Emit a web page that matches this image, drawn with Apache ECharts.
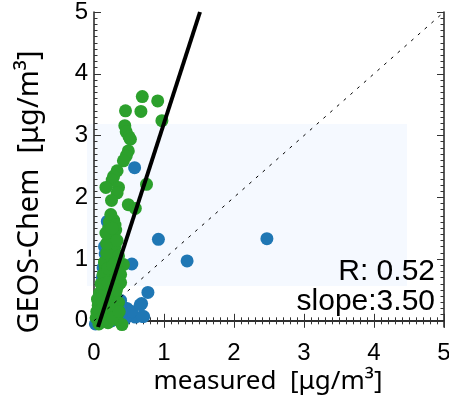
<!DOCTYPE html>
<html>
<head>
<meta charset="utf-8">
<script src="https://cdn.jsdelivr.net/npm/echarts@6/dist/echarts.min.js"></script>
<style>
  html, body { margin: 0; padding: 0; background: #fff; }
  #chart { width: 449px; height: 405px; }
</style>
</head>
<body>
<div id="chart"></div>
<script>
// Measured vs. modelled concentrations, two site groups
const blueX = [2.47, 0.92, 1.33, 0.58, 0.54, 0.77, 0.68, 0.71, 0.59, 0.52, 0.47, 0.38, 0.35, 0.28, 0.42, 0.45,
               0.19, 0.15, 0.16, 0.13, 0.12, 0.10, 0.02, 0.05, 0.08, 0.30, 0.25, 0.33, 0.22, 0.38, 0.54, 0.69, 0.66];
const blueY = [1.33, 1.32, 0.97, 2.48, 0.92, 0.46, 0.28, 0.07, 0.06, 0.14, 0.20, 0.33, 0.12, 0.23, 0.22, 0.04,
               1.61, 1.20, 1.08, 0.86, 0.70, 0.45, -0.05, 0.10, 0.30, 0.05, 0.00, 0.28, 0.10, 0.18, 0.15, 0.07, 0.26];

const greenX = [0.69, 0.91, 0.45, 0.67, 0.97, 0.44, 0.46, 0.50, 0.52, 0.49, 0.46, 0.42, 0.33, 0.28, 0.26, 0.17,
                0.35, 0.33, 0.75, 0.25, 0.49, 0.59, 0.28, 0.26, 0.21, 0.31, 0.21, 0.26, 0.24, 0.42, 0.16, 0.19,
                0.12, 0.31, 0.09, 0.24, 0.40, 0.22, 0.28, 0.25, 0.30, 0.20, 0.28, 0.22, 0.30, 0.24, 0.17, 0.26,
                0.32, 0.14, 0.22, 0.28, 0.35, 0.12, 0.20, 0.27, 0.06, 0.15, 0.22, 0.30, 0.04, 0.12, 0.18, 0.28,
                0.03, 0.10, 0.16, 0.33, 0.07, 0.35, 0.38,
                0.08, 0.10, 0.13, 0.15, 0.18, 0.18, 0.17, 0.22, 0.24, 0.30, 0.33, 0.35, 0.33, 0.38, 0.35,
                0.05, 0.08, 0.14, 0.20, 0.20, 0.27, 0.26, 0.13, 0.25, 0.32, 0.11, 0.20, 0.27, 0.36];
const greenY = [3.63, 3.56, 3.40, 3.39, 3.24, 3.16, 3.06, 2.98, 2.94, 2.75, 2.67, 2.59, 2.43, 2.34, 2.28, 2.16,
                2.16, 2.07, 2.21, 1.95, 1.88, 1.82, 1.63, 1.58, 1.50, 1.47, 1.31, 1.26, 1.10, 0.91, 0.88, 0.72,
                0.56, 0.45, 0.34, 0.07, -0.06, 1.38, 1.40, 1.18, 1.20, 1.02, 1.00, 0.95, 0.85, 0.80, 0.65, 0.65,
                0.70, 0.48, 0.52, 0.55, 0.58, 0.40, 0.40, 0.35, 0.25, 0.28, 0.25, 0.30, 0.15, 0.15, 0.12, 0.15,
                0.05, 0.02, 0.00, 0.02, -0.05, 0.80, 0.62,
                0.45, 0.60, 0.75, 0.95, 1.10, 1.25, 1.42, 1.60, 1.72, 1.55, 1.30, 1.05, 0.95, 0.75, 0.30,
                0.35, 0.15, 0.60, 0.62, 0.85, 0.90, 1.50, 0.30, 0.25, 0.50, 0.05, -0.03, 0.05, 0.15];

// Fit statistics
const fitR = 0.52;
const fitSlope = 3.50;
const fitIntercept = -0.30;

// Axis ranges and tick labels
const xRange = [0, 5];
const yRange = [-0.1, 5];
const xTicks = [0, 1, 2, 3, 4, 5];
const yTicks = [0, 1, 2, 3, 4, 5];

const pairs = (xs, ys) => xs.map((x, i) => [x, ys[i]]);
const yMinor = [];
for (let k = 0; k <= 50; k++) yMinor.push(+(k * 0.1).toFixed(1));

const tickFont = { fontFamily: 'Liberation Sans', fontSize: 24, color: '#000' };
const axisLine = { show: true, lineStyle: { color: '#222', width: 1.5 } };

function yAxisDef(position, values, len, withLine, withLabels) {
  return {
    type: 'value', position: position, min: yRange[0], max: yRange[1],
    axisLine: withLine ? axisLine : { show: false },
    axisTick: { show: true, inside: true, length: len, customValues: values,
                lineStyle: { color: '#333', width: 1 } },
    axisLabel: withLabels
      ? Object.assign({ show: true, customValues: yTicks, margin: 6, padding: [12, 0, 0, 0] }, tickFont)
      : { show: false },
    splitLine: { show: false }
  };
}

function xAxisDef(position, withLabels) {
  return {
    type: 'value', position: position, min: xRange[0], max: xRange[1], interval: 1,
    axisLine: axisLine,
    axisTick: { show: true, inside: true, length: 7, lineStyle: { color: '#333', width: 1 } },
    minorTick: { show: true, splitNumber: 10, length: 3.5, lineStyle: { color: '#333', width: 1 } },
    axisLabel: withLabels ? Object.assign({ show: true, margin: 14, customValues: xTicks }, tickFont) : { show: false },
    splitLine: { show: false }, minorSplitLine: { show: false }
  };
}

const chart = echarts.init(document.getElementById('chart'), null, { renderer: 'canvas' });

chart.setOption({
  animation: false,
  backgroundColor: '#fff',
  grid: { left: 94, right: 5, top: 12, bottom: 78, containLabel: false, outerBoundsMode: 'none' },
  xAxis: [xAxisDef('bottom', true), xAxisDef('top', false)],
  yAxis: [
    yAxisDef('left', yTicks, 7, true, true),
    yAxisDef('left', yMinor, 3.5, false, false),
    yAxisDef('right', yTicks, 7, true, false),
    yAxisDef('right', yMinor, 3.5, false, false)
  ],
  graphic: {
    elements: [
      { type: 'rect', z: -1, shape: { x: 87, y: 124, width: 320, height: 162 },
        style: { fill: '#f5f9ff' } },
      { type: 'text', z: 50, x: 435, y: 272, style: {
          text: 'R: ' + fitR.toFixed(2), fill: '#000', font: '30px "Liberation Sans"',
          textAlign: 'right', textVerticalAlign: 'middle' } },
      { type: 'text', z: 50, x: 435, y: 302, style: {
          text: 'slope:' + fitSlope.toFixed(2), fill: '#000', font: '30px "Liberation Sans"',
          textAlign: 'right', textVerticalAlign: 'middle' } },
      { type: 'text', z: 50, x: 268, y: 382, style: {
          text: 'measured  [μg/m³]', fill: '#000', font: '26px "Noto Sans"',
          textAlign: 'center', textVerticalAlign: 'middle' } },
      { type: 'text', z: 50, x: 30, y: 192, rotation: Math.PI / 2, style: {
          text: 'GEOS-Chem  [μg/m³]', fill: '#000', font: '29px "Noto Sans"',
          textAlign: 'center', textVerticalAlign: 'middle' } }
    ]
  },
  series: [
    {
      name: 'group A', type: 'scatter', symbol: 'circle', symbolSize: 13, z: 2,
      itemStyle: { color: '#1f77b4', opacity: 1 },
      data: pairs(blueX, blueY)
    },
    {
      name: 'group B', type: 'scatter', symbol: 'circle', symbolSize: 13, z: 3,
      itemStyle: { color: '#2ca02c', opacity: 1 },
      data: pairs(greenX, greenY)
    },
    {
      name: '1:1', type: 'line', symbol: 'none', z: 4, silent: true,
      lineStyle: { color: '#000', width: 1, type: [3, 6] },
      data: [[xRange[0], xRange[0]], [xRange[1], xRange[1]]]
    },
    {
      name: 'fit', type: 'line', symbol: 'none', z: 5, silent: true, clip: true,
      lineStyle: { color: '#000', width: 4 },
      data: [[(yRange[0] - fitIntercept) / fitSlope, yRange[0]],
             [(yRange[1] - fitIntercept) / fitSlope, yRange[1]]]
    }
  ]
});
</script>
</body>
</html>
